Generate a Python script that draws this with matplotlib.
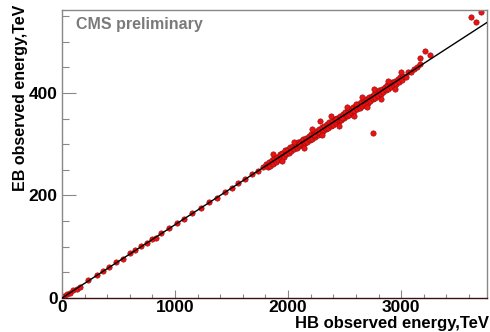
import matplotlib
matplotlib.use("Agg")
import matplotlib.pyplot as plt
from matplotlib.ticker import MultipleLocator

plt.rcParams['font.family'] = ['Liberation Sans', 'DejaVu Sans']
plt.rcParams['font.weight'] = 'bold'

# HB vs EB observed energy per event (TeV)
hb_energy = [
    20, 45, 70, 95, 130, 160, 230, 310, 360, 420, 480, 540, 600, 650, 700, 750,
    800, 830, 880, 950, 1020, 1080, 1150, 1230, 1300, 1370, 1440, 1500, 1560,
    1620, 1680, 1730, 1780,
    1805, 1818, 1830, 1842, 1855, 1866, 1878, 1890, 1901, 1913, 1925, 1936,
    1948, 1960, 1972, 1984, 1995, 2007, 2018, 2030, 2042, 2053, 2065, 2076,
    2088, 2100, 2111, 2123, 2134, 2146, 2158, 2169, 2181, 2192, 2204, 2215,
    2227, 2239, 2250, 2262, 2273, 2285, 2297, 2308, 2320, 2331, 2343, 2355,
    2366, 2378, 2390, 2401, 2413, 2424, 2436, 2448, 2459, 2471, 2482, 2494,
    2506, 2517, 2529, 2540, 2552, 2564, 2575, 2587, 2598, 2610, 2622, 2633,
    2645, 2656, 2668, 2680, 2691, 2703, 2714, 2726, 2738, 2749, 2761, 2772,
    2784, 2796, 2807, 2819, 2830, 2842, 2854, 2865, 2877, 2888, 2900, 2912,
    2923, 2935, 2946, 2958, 2970, 2981, 2993, 3005, 3020, 3040, 3060, 3085,
    3110, 3140, 3170,
    1870, 1950, 2050, 2140, 2210, 2300, 2380, 2450, 2520, 2580, 2650, 2700,
    2760, 2820, 2880, 2950, 3000, 2420, 2600, 2480, 2230, 2100, 2283,
    2752, 3168, 3212, 3257, 3620, 3708, 3664,
]
eb_energy = [
    3, 8, 9, 15, 18, 22, 35, 44, 52, 60, 70, 77, 87, 93, 101, 107,
    116, 118, 127, 136, 147, 154, 165, 176, 188, 196, 206, 215, 225,
    232, 241, 248, 256,
    262, 255, 266, 258, 270, 262, 274, 265, 276, 270, 280, 272,
    283, 276, 288, 280, 290, 283, 294, 287, 297, 291, 300, 292,
    304, 296, 306, 299, 310, 302, 313, 305, 316, 309, 320, 311,
    322, 315, 326, 318, 329, 322, 333, 325, 336, 329, 340, 331,
    343, 335, 346, 338, 349, 342, 352, 345, 356, 348, 359, 352,
    362, 355, 366, 357, 369, 361, 372, 364, 375, 368, 378, 371,
    382, 374, 385, 377, 388, 381, 392, 384, 395, 388, 398, 391,
    402, 394, 405, 398, 408, 401, 412, 405, 415, 408, 418, 411,
    422, 414, 424, 418, 428, 421, 431, 425, 434, 432, 440, 441,
    447, 451, 456,
    281, 268, 305, 292, 330, 318, 355, 335, 372, 355, 392, 372,
    408, 388, 424, 408, 440, 350, 378, 352, 318, 300, 345,
    322, 468, 482, 474, 548, 558, 538,
]

fit_slope = 0.143  # EB/HB ratio from the linear fit

x_max, y_max = 3760, 562

fig = plt.figure(figsize=(4.9, 3.32), dpi=100)
ax = fig.add_axes([0.1265, 0.1024, 0.8675, 0.8676])

ax.scatter(hb_energy, eb_energy, s=15, c='#ee1111', edgecolors='#8a0c0c',
           linewidths=0.4, zorder=2)
ax.axline((0, 0), slope=fit_slope, color='black', lw=1.0, zorder=3)

ax.set_xlim(0, x_max)
ax.set_ylim(0, y_max)

ax.xaxis.set_major_locator(MultipleLocator(1000))
ax.xaxis.set_minor_locator(MultipleLocator(200))
ax.yaxis.set_major_locator(MultipleLocator(200))
ax.yaxis.set_minor_locator(MultipleLocator(50))

ax.tick_params(axis='x', which='major', direction='in', length=6, width=0.8,
               color='#888888', labelsize=12.5, pad=1.5)
ax.tick_params(axis='x', which='minor', direction='in', length=3, width=0.8,
               color='#888888')
ax.tick_params(axis='y', which='major', direction='in', length=10, width=0.8,
               color='#888888', labelsize=12.5, pad=3)
ax.tick_params(axis='y', which='minor', direction='in', length=5, width=0.8,
               color='#888888')

for side in ('left', 'top', 'right'):
    ax.spines[side].set_color('#888888')
    ax.spines[side].set_linewidth(1.0)
ax.spines['bottom'].set_color('#3a1010')
ax.spines['bottom'].set_linewidth(1.0)

fig.text(0.997, 0.004, 'HB observed energy,TeV', ha='right', va='bottom',
         fontsize=12, fontweight='bold')
fig.text(0.042, 0.985, 'EB observed energy,TeV', ha='center', va='top',
         rotation=90, fontsize=11.5, fontweight='bold')
ax.text(0.034, 0.95, 'CMS preliminary', transform=ax.transAxes, ha='left',
        va='center', fontsize=11.5, fontweight='bold', color='#7a7a7a')

fig.savefig('out.png', dpi=100, facecolor='white')
